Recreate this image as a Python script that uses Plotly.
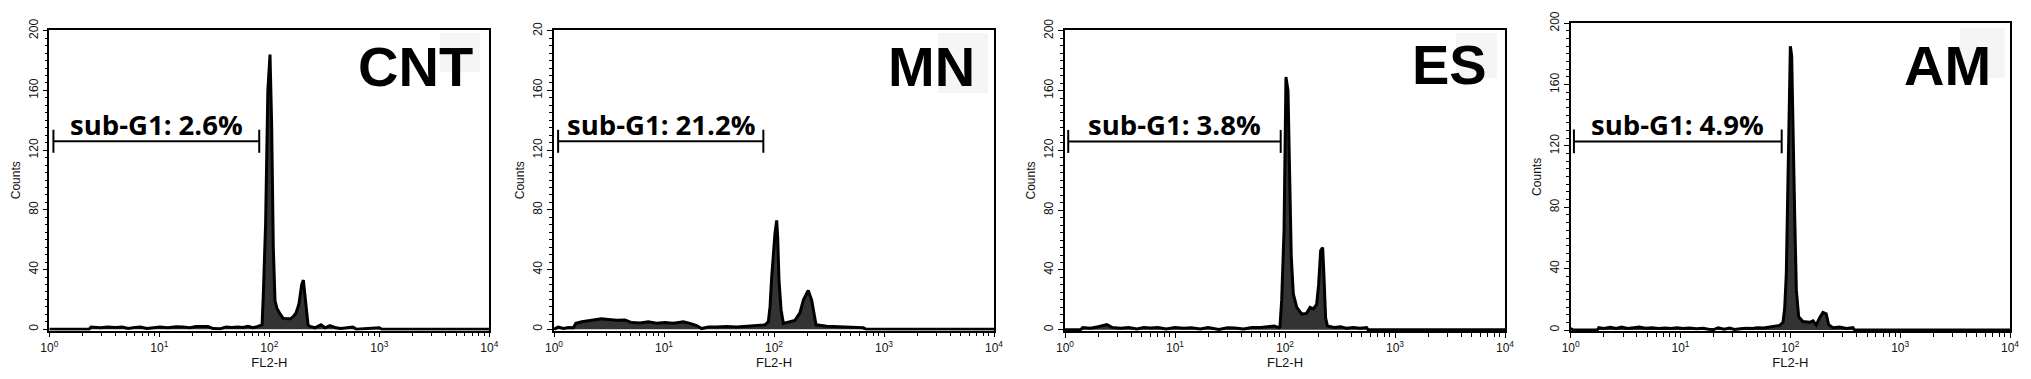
import numpy as np
import plotly.graph_objects as go

W, H = 2031, 379

panel_names = ["CNT", "MN", "ES", "AM"]
subg1_labels = ["sub-G1: 2.6%", "sub-G1: 21.2%", "sub-G1: 3.8%", "sub-G1: 4.9%"]
y_tick_vals = [0, 40, 80, 120, 160, 200]
y_tick_text_std = ["0", "40", "80", "120", "160", "200"]
y_tick_text_mn = ["0", "40", "80", "120", "160", "20"]
x_tick_vals = [1, 10, 100, 1000, 10000]
x_tick_text = ["10<sup>0</sup>", "10<sup>1</sup>", "10<sup>2</sup>", "10<sup>3</sup>", "10<sup>4</sup>"]

# FL2-H channel values and counts
cnt_x = [1.0, 2.3, 2.4, 2.9, 3.4, 4.0, 4.6, 5.2, 6.0, 6.7, 7.7, 8.8, 10.1, 12.0, 14.2, 16.4,
         19.0, 21.5, 25.0, 27.7, 30.8, 35.6, 40.4, 45.7, 51.9, 57.5, 64.0, 71.0, 77.5, 82.0,
         86.0, 88.0, 92.5, 97.0, 101.5, 105.0, 108.7, 112.7, 117.5, 125.0, 133.0, 144.7,
         155.0, 165.0, 175.0, 186.0, 197.0, 204.0, 211.0, 219.0, 225.0, 234.0, 260.0, 295.0,
         321.0, 356.0, 404.0, 447.0, 576.0, 620.0, 1000.0, 1050.0, 10000.0]
cnt_y = [0, 0, 1.5, 1.0, 1.5, 1.2, 1.5, 0.5, 1.3, 1.5, 0.5, 0.8, 1.5, 1.0, 1.7, 1.5,
         1.0, 1.8, 2.0, 1.8, 0.5, 0.3, 1.5, 1.2, 1.6, 1.2, 2.0, 1.0, 1.8, 2.2,
         3.0, 21, 70, 160, 184, 138, 55, 19, 14, 10.5, 7.5, 7.0,
         7.0, 8.5, 11, 17, 30, 33, 22, 11, 3, 2, 1, 3,
         1, 2.5, 1, 0.5, 1.5, 0, 1, 0, 0]

mn_x = [1.0, 1.09, 1.22, 1.35, 1.5, 1.58, 1.79, 1.98, 2.28, 2.71, 3.12, 3.71, 4.42, 5.08,
        6.05, 7.2, 8.57, 10.2, 12.2, 15.0, 17.2, 19.8, 22.0, 25.3, 30.1, 37.2, 45.8, 56.5,
        69.5, 82.8, 88.8, 92.0, 95.3, 98.6, 102.0, 105.8, 108.0, 111.0, 116.0, 121.6, 135.0,
        155.0, 172.0, 185.0, 198.0, 205.0, 220.0, 232.0, 241.0, 301.0, 398.0, 525.0, 648.0,
        693.0, 10000.0]
mn_y = [0, 1.5, 0.5, 1.2, 1.0, 4.0, 5.0, 5.5, 6.0, 7.0, 6.5, 6.0, 6.3, 4.5,
        4.2, 5.0, 4.0, 4.5, 4.0, 5.0, 4.0, 2.5, 0.5, 1.5, 1.5, 1.8, 1.5, 2.0,
        2.5, 3.0, 5, 15, 35, 53, 64, 73, 62, 33, 13, 4, 5,
        6, 11, 19.6, 24, 26, 19.6, 8.4, 3, 2, 1.5, 1.5, 1,
        0, 0]

es_x = [1.0, 1.38, 1.45, 1.7, 2.0, 2.4, 2.7, 3.2, 3.8, 4.5, 5.2, 6.0, 7.0, 8.3, 10.0, 12.0,
        14.0, 17.0, 20.0, 25.0, 30.0, 35.0, 42.0, 50.0, 60.0, 70.0, 80.0, 88.0, 90.0, 93.3,
        98.0, 102.0, 106.5, 110.0, 114.0, 119.0, 128.0, 142.0, 157.0, 169.0, 181.0, 194.0,
        202.0, 211.0, 220.0, 226.0, 234.0, 243.0, 280.0, 320.0, 360.0, 420.0, 480.0, 552.0,
        570.0, 10000.0]
es_y = [0, 0, 1.5, 1.0, 2.0, 3.5, 1.5, 1.0, 1.5, 0.5, 1.5, 1.2, 1.5, 0.5, 1.5, 1.0,
        1.3, 0.5, 1.5, 0.3, 1.3, 1.2, 0.5, 1.5, 1.5, 2.0, 2.5, 1.5, 2, 20,
        66, 169, 160, 107, 49, 24, 15, 10.5, 11, 15, 14, 17,
        30, 53, 55, 36, 8, 2.5, 1.5, 2, 1, 1.5, 1, 1.5,
        0, 0]

am_x = [1.0, 1.05, 1.75, 1.8, 2.0, 2.3, 2.6, 2.9, 3.3, 3.7, 4.2, 4.8, 5.5, 6.3, 7.2, 8.2,
        9.3, 10.5, 12.0, 14.0, 16.0, 18.0, 20.0, 22.0, 25.0, 28.0, 31.0, 35.0, 40.0, 45.0,
        50.0, 57.0, 65.0, 72.0, 80.0, 85.7, 88.8, 91.9, 94.5, 97.2, 100.0, 102.8, 105.7,
        109.6, 113.4, 119.0, 130.0, 150.0, 161.0, 172.0, 185.0, 198.0, 212.0, 223.0, 244.0,
        281.0, 323.0, 371.0, 384.0, 10000.0]
am_y = [1.0, 0, 0, 1.5, 1.0, 1.8, 1.0, 2.0, 1.0, 1.3, 2.0, 1.2, 1.5, 1.0, 1.3, 1.0,
        1.5, 1.0, 1.3, 0.8, 1.2, 0.5, 0.3, 1.5, 0.5, 1.3, 0.3, 0.8, 1.2, 1.0,
        1.5, 1.3, 2.0, 2.2, 3.0, 5, 14, 37, 82, 140, 185, 179, 142,
        74, 26, 8.7, 5.5, 5, 6, 3.3, 8, 11.5, 10.5, 3.5, 1.5,
        2, 1, 1.5, 0, 0]

# sub-G1 gate: lower bound, upper bound, height (counts)
gate_lo = [1.09, 1.09, 1.07, 1.07]
gate_hi = [81.0, 80.0, 91.4, 83.4]
gate_y = [126.0, 126.0, 126.0, 123.0]

hist_x = [cnt_x, mn_x, es_x, am_x]
hist_y = [cnt_y, mn_y, es_y, am_y]

# layout in pixels: left, right, top, bottom of each plot box
boxes = [(49.3, 489.3, 30, 330.5), (554, 994, 30, 330.5),
         (1065, 1505, 30, 331), (1570.7, 2010, 22.7, 331)]
y_ranges = [[-0.8, 200.5], [-0.8, 200.5], [-0.8, 200.5], [-0.65, 200.4]]
label_right = [475, 977, 1489, 1993]
label_cy = [66.5, 67, 65, 65.5]
shade_boxes = [(440, 480, 33, 72), (938, 988, 33, 93), (1456, 1497, 33, 78), (1960, 2005, 28, 78)]

AXF = "Liberation Sans, Arial, sans-serif"
fig = go.Figure()
annotations = []
shapes = []
tick_half = 7.7
for i in range(4):
    n = "" if i == 0 else str(i + 1)
    xa, ya = "x" + n, "y" + n
    l, r, t, b = boxes[i]
    # faint backdrop behind panel label
    sl, sr, st, sb = shade_boxes[i]
    shapes.append(dict(type="rect", xref="paper", yref="paper", x0=sl / W, x1=sr / W,
                       y0=1 - sb / H, y1=1 - st / H, fillcolor="#f5f5f5", line_width=0,
                       layer="below"))
    fig.add_trace(go.Scatter(x=hist_x[i], y=hist_y[i], mode="lines", xaxis=xa, yaxis=ya,
                             line=dict(color="#000000", width=3.0), fill="tozeroy",
                             fillcolor="#333333", showlegend=False, hoverinfo="skip"))
    lo, hi, gy = gate_lo[i], gate_hi[i], gate_y[i]
    fig.add_trace(go.Scatter(x=[lo, lo, None, lo, hi, None, hi, hi],
                             y=[gy - tick_half, gy + tick_half, None, gy, gy, None,
                                gy - tick_half, gy + tick_half],
                             mode="lines", xaxis=xa, yaxis=ya,
                             line=dict(color="#000000", width=2), showlegend=False,
                             hoverinfo="skip"))
    annotations.append(dict(xref=xa, yref=ya, x=float(np.log10(np.sqrt(lo * hi))), y=gy,
                            text=subg1_labels[i], showarrow=False, xanchor="center",
                            yanchor="bottom", yshift=-4,
                            font=dict(family="Open Sans", size=27.5, color="#000000", weight=700)))
    annotations.append(dict(xref="paper", yref="paper", x=label_right[i] / W,
                            y=1 - label_cy[i] / H, text=panel_names[i], showarrow=False,
                            xanchor="right", yanchor="middle",
                            font=dict(family=AXF, size=56, color="#000000", weight=700)))
    fig.layout["xaxis" + n] = dict(
        type="log", range=[0, 4], domain=[l / W, r / W], anchor=ya, automargin=False,
        tickmode="array", tickvals=x_tick_vals, ticktext=x_tick_text,
        ticks="outside", ticklen=5, tickwidth=1.2, tickcolor="#000",
        minor=dict(tickmode="array",
                   tickvals=[2, 3, 4, 5, 6, 7, 8, 9, 20, 30, 40, 50, 60, 70, 80, 90,
                             200, 300, 400, 500, 600, 700, 800, 900,
                             2000, 3000, 4000, 5000, 6000, 7000, 8000, 9000],
                   ticks="outside", ticklen=4, tickwidth=1.2, tickcolor="#000"),
        showline=True, linecolor="#000", linewidth=1.5, mirror=True,
        showgrid=False, zeroline=False,
        tickfont=dict(family=AXF, size=12, color="#111"),
        title=dict(text="FL2-H", font=dict(family=AXF, size=13, color="#111"), standoff=2),
    )
    fig.layout["yaxis" + n] = dict(
        range=y_ranges[i], domain=[1 - b / H, 1 - t / H], anchor=xa, automargin=False,
        tickmode="array", tickvals=y_tick_vals,
        ticktext=(y_tick_text_mn if i == 1 else y_tick_text_std),
        tickangle=-90, ticks="outside", ticklen=5, tickwidth=1.2, tickcolor="#000",
        minor=dict(dtick=5, ticks="outside", ticklen=3, tickwidth=1, tickcolor="#000"),
        showline=True, linecolor="#000", linewidth=1.5, mirror=True,
        showgrid=False, zeroline=False,
        tickfont=dict(family=AXF, size=12, color="#111"),
        title=dict(text="Counts", font=dict(family=AXF, size=12, color="#111"), standoff=4),
    )

fig.update_layout(width=W, height=H, margin=dict(l=0, r=0, t=0, b=0, autoexpand=False),
                  paper_bgcolor="white", plot_bgcolor="white",
                  annotations=annotations, shapes=shapes, showlegend=False)
fig.write_html("out.html", config={"displayModeBar": False},
               post_script="document.body.style.margin='0';document.body.style.padding='0';")
